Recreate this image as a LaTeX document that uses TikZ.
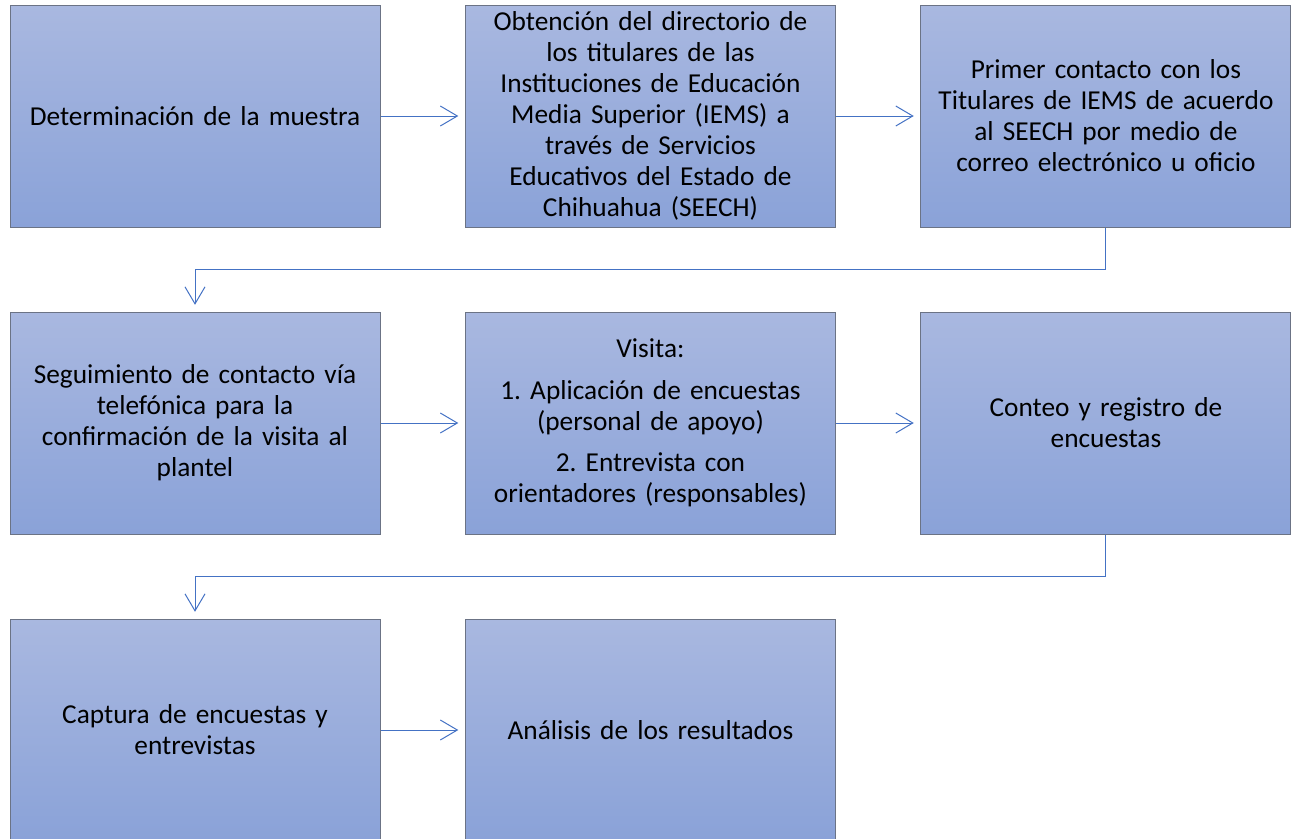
\documentclass[tikz,border=0pt]{standalone}
\usepackage{fontspec}
\setmainfont{Carlito}
\usepackage{tikz}
\usetikzlibrary{arrows.meta,positioning}

\definecolor{boxtop}{HTML}{A9B8E0}
\definecolor{boxbot}{HTML}{8AA2D8}
\definecolor{boxline}{HTML}{6B7385}
\definecolor{flowline}{HTML}{4472C4}
\frenchspacing

\begin{document}
\begin{tikzpicture}[x=0.75pt,y=-0.75pt,node distance=341.6pt,
    stage node/.style={rectangle,draw=boxline,line width=0.75pt,top color=boxtop,bottom color=boxbot,
      minimum width=277.5pt,minimum height=166.5pt,text width=262pt,inner sep=0pt,align=center,
      font=\fontsize{20.5}{23.25}\selectfont},
    flow/.style={draw=flowline,line width=0.75pt,shorten >=5pt,-{Straight Barb[length=12.75pt,width=15pt]}}]
    \clip (0,0) rectangle (1297,839);

    \node[stage node] (1) at (195,116) {Determinación de la muestra};
    \node[stage node] (2) [right of=1] {Obtención del directorio de\\ los titulares de las\\ Instituciones de Educación\\ Media Superior (IEMS) a\\ través de Servicios\\ Educativos del Estado de\\ Chihuahua (SEECH)};
    \node[stage node] (3) [right of=2] {Primer contacto con los\\ Titulares de IEMS de acuerdo\\ al SEECH por medio de\\ correo electrónico u oficio};
    \node[stage node] (4) [below of=1,node distance=230.25pt] {Seguimiento de contacto vía\\ telefónica para la\\ confirmación de la visita al\\ plantel};
    \node[stage node] (5) [right of=4] {Visita:\\[8pt] 1. Aplicación de encuestas\\ (personal de apoyo)\\[8pt] 2. Entrevista con\\ orientadores (responsables)};
    \node[stage node] (6) [right of=5] {Conteo y registro de\\ encuestas};
    \node[stage node] (7) [below of=4,node distance=230.25pt] {Captura de encuestas y\\ entrevistas};
    \node[stage node] (8) [right of=7] {Análisis de los resultados};

    \path[flow]
    (1) edge (2)
    (2) edge (3)
    (4) edge (5)
    (5) edge (6)
    (7) edge (8);
    \draw[flow] (3.south) -- ++(0,42) -| (4.north);
    \draw[flow] (6.south) -- ++(0,42) -| (7.north);
  \end{tikzpicture}
\end{document}
